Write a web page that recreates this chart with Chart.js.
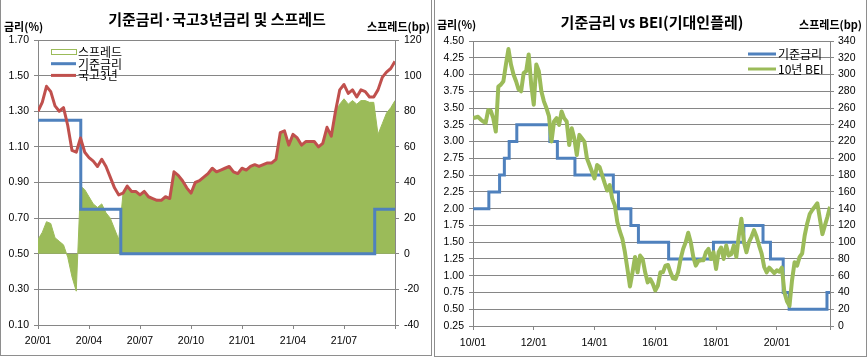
<!DOCTYPE html>
<html>
<head>
<meta charset="utf-8">
<script src="https://cdn.jsdelivr.net/npm/chart.js@4.4.1/dist/chart.umd.min.js"></script>
<style>
  body { margin: 0; background: #fff; }
  #page { position: relative; width: 867px; height: 358px; overflow: hidden; }
  .panel { position: absolute; top: 0; }
  .frame { position: absolute; top: 0; border: 1px solid #8e8e8e; border-top: none; box-sizing: border-box; }
</style>
</head>
<body>
<div id="page">
  <div class="frame" style="left:0;width:432px;height:356px"></div>
  <div class="frame" style="left:434px;width:433px;height:357px"></div>
  <div class="panel" style="left:0"><canvas id="rateChart" width="432" height="358"></canvas></div>
  <div class="panel" style="left:434px"><canvas id="beiChart" width="433" height="358"></canvas></div>
</div>
<script>
// ---- left chart data: weekly points from 2020/01 (x = months since 2020/01)
const tb3Yield = [
  1.30, 1.35, 1.44, 1.41, 1.33, 1.30, 1.32, 1.22, 1.08, 1.07,
  1.15, 1.07, 1.04, 1.02, 0.99, 1.03, 0.99, 0.93, 0.87, 0.83,
  0.84, 0.88, 0.85, 0.85, 0.83, 0.85, 0.82, 0.81, 0.80, 0.80,
  0.82, 0.81, 0.96, 0.94, 0.91, 0.87, 0.84, 0.90, 0.91, 0.93,
  0.95, 0.98, 0.96, 0.97, 0.98, 0.99, 0.96, 0.95, 0.98, 0.97,
  0.99, 1.00, 0.99, 1.00, 1.01, 1.01, 1.03, 1.18, 1.19, 1.11,
  1.17, 1.15, 1.11, 1.13, 1.13, 1.13, 1.10, 1.12, 1.21, 1.16,
  1.30, 1.42, 1.45, 1.40, 1.42, 1.38, 1.42, 1.41, 1.38, 1.38,
  1.42, 1.49, 1.52, 1.54, 1.58
];
const tb3Spread = [
  8, 12, 18, 17, 9, 7, 5, -2, -13, -21,
  38, 36, 32, 28, 26, 28, 23, 20, 14, 8,
  34, 38, 35, 35, 33, 35, 32, 31, 30, 30,
  32, 31, 46, 44, 41, 37, 34, 40, 41, 43,
  45, 48, 46, 47, 48, 49, 46, 45, 48, 47,
  49, 50, 49, 50, 51, 51, 53, 68, 69, 61,
  67, 65, 61, 63, 63, 63, 60, 62, 71, 66,
  80, 84, 87, 84, 86, 84, 86, 86, 85, 85,
  67, 73, 79, 82, 86
];
const baseDates20 = ["2020-01-01", "2020-03-17", "2020-05-28", "2021-08-26", "2021-10-01"];
const baseRate20 = [1.25, 0.75, 0.50, 0.75, 0.75];

// ---- right chart data: monthly points from 2010/01
const bei10y = [
  3.35, 3.36, 3.37, 3.33, 3.30, 3.28, 3.47, 3.46, 3.35, 3.15,
  3.82, 3.85, 3.90, 4.15, 4.38, 4.15, 4.00, 3.90, 3.78, 3.75,
  4.02, 4.05, 4.30, 3.85, 3.55, 4.15, 4.05, 3.75, 3.60, 3.50,
  3.38, 3.00, 3.30, 3.35, 3.25, 3.45, 3.35, 3.30, 2.95, 3.20,
  3.05, 2.80, 3.10, 3.05, 3.00, 2.75, 2.65, 2.55, 2.45, 2.65,
  2.62, 2.50, 2.38, 2.27, 2.35, 2.15, 2.05, 1.80, 1.66, 1.55,
  1.35, 1.10, 0.84, 1.05, 1.28, 1.05, 1.30, 1.25, 1.05, 0.90,
  0.95, 0.88, 0.78, 0.85, 1.05, 1.05, 1.15, 1.16, 1.05, 0.96,
  0.95, 1.05, 1.25, 1.40, 1.50, 1.64, 1.50, 1.28, 1.15, 1.22,
  1.23, 1.23, 1.35, 1.40, 1.25, 1.35, 1.10, 1.35, 1.42, 1.25,
  1.45, 1.30, 1.32, 1.45, 1.28, 1.60, 1.85, 1.50, 1.35, 1.50,
  1.58, 1.68, 1.58, 1.45, 1.33, 1.13, 1.05, 1.12, 1.08, 1.04,
  1.08, 1.06, 1.12, 0.75, 0.62, 0.55, 0.93, 1.20, 1.15, 1.28,
  1.33, 1.60, 1.78, 1.92, 1.98, 2.03, 2.08, 1.85, 1.62, 1.75,
  1.88, 2.03
];
const baseDates10 = [
  "2010-01-01", "2010-07-09", "2010-11-16", "2011-01-13", "2011-03-10", "2011-06-10",
  "2012-07-12", "2012-10-11", "2013-05-09", "2014-08-14", "2014-10-15", "2015-03-12",
  "2015-06-11", "2016-06-09", "2017-11-30", "2018-11-30", "2019-07-18", "2019-10-16",
  "2020-03-17", "2020-05-28", "2021-08-26", "2021-10-01"
];
const baseRate10 = [
  2.00, 2.25, 2.50, 2.75, 3.00, 3.25, 3.00, 2.75, 2.50, 2.25, 2.00,
  1.75, 1.50, 1.25, 1.50, 1.75, 1.50, 1.25, 0.75, 0.50, 0.75, 0.75
];

const gridColor = "#868686";
const blue = "#4F81BD";
const red = "#C0504D";
const green = "#9BBB59";
const krFont = "'Noto Sans CJK KR', 'Noto Sans', sans-serif";

Chart.defaults.font.family = "'Liberation Sans', Arial, sans-serif";
Chart.defaults.font.size = 10.5;
Chart.defaults.color = "#000";

// months since January of baseYear
function monthPos(dateStr, baseYear) {
  const [y, m, d] = dateStr.split("-").map(Number);
  const days = new Date(y, m, 0).getDate();
  return (y - baseYear) * 12 + (m - 1) + (d - 1) / days;
}

function monthLabel(v, yy, step, max) {
  if (v % step !== 0 || v >= max) return "";
  const year = yy + Math.floor(v / 12);
  const month = (v % 12) + 1;
  return year + "/" + String(month).padStart(2, "0");
}

function toPoints(xs, ys) {
  return xs.map((x, i) => ({ x: x, y: ys[i] }));
}

// titles, axis titles and the legend inside the plot
const chartText = {
  id: "chartText",
  afterDraw(chart, args, opts) {
    const ctx = chart.ctx;
    ctx.save();
    ctx.fillStyle = "#000";
    ctx.textBaseline = "middle";
    ctx.font = "bold 15px " + krFont;
    ctx.textAlign = "center";
    ctx.fillText(opts.title, opts.titleX, opts.titleY);
    ctx.font = "bold 11px " + krFont;
    ctx.textAlign = "left";
    ctx.fillText("금리(%)", opts.leftTitleX, opts.axisTitleY);
    ctx.textAlign = "right";
    ctx.fillText("스프레드(bp)", opts.rightTitleX, opts.axisTitleY);

    ctx.font = "12px " + krFont;
    ctx.textAlign = "left";
    opts.legendOrder.forEach((idx, i) => {
      const ds = chart.data.datasets[idx];
      const y = opts.legendY + i * opts.legendGap;
      const x0 = opts.legendX;
      const x1 = x0 + opts.legendW;
      if (ds.fill) {
        ctx.fillStyle = "#fff";
        ctx.fillRect(x0, y - 2, x1 - x0, 5);
        ctx.strokeStyle = ds.backgroundColor;
        ctx.lineWidth = 1;
        ctx.strokeRect(x0 + 0.5, y - 2.5, x1 - x0, 5);
      } else {
        ctx.strokeStyle = ds.borderColor;
        ctx.lineWidth = 3;
        ctx.beginPath();
        ctx.moveTo(x0, y);
        ctx.lineTo(x1, y);
        ctx.stroke();
      }
      ctx.fillStyle = "#000";
      ctx.fillText(ds.label, x1 + 2, y + 0.5);
    });
    ctx.restore();
  }
};

const weekPos = tb3Yield.map((_, i) => i / 4);
const base20Pos = baseDates20.map((d) => monthPos(d, 2020));

new Chart(document.getElementById("rateChart"), {
  type: "line",
  data: {
    datasets: [
      {
        label: "국고3년",
        data: toPoints(weekPos, tb3Yield),
        yAxisID: "y",
        borderColor: red,
        borderWidth: 3,
        borderJoinStyle: "round",
        pointRadius: 0,
        fill: false
      },
      {
        label: "기준금리",
        data: toPoints(base20Pos, baseRate20),
        yAxisID: "y",
        borderColor: blue,
        borderWidth: 3,
        stepped: true,
        pointRadius: 0,
        fill: false
      },
      {
        label: "스프레드",
        data: toPoints(weekPos, tb3Spread),
        yAxisID: "y2",
        borderColor: green,
        backgroundColor: green,
        borderWidth: 1,
        pointRadius: 0,
        fill: "origin"
      }
    ]
  },
  options: {
    responsive: false,
    animation: false,
    devicePixelRatio: 1,
    layout: { padding: { top: 40, left: 0, right: 0, bottom: 0 } },
    plugins: {
      legend: { display: false },
      tooltip: { enabled: false },
      chartText: {
        title: "기준금리·국고3년금리 및 스프레드",
        titleX: 217, titleY: 19,
        leftTitleX: 4, rightTitleX: 430, axisTitleY: 27,
        legendOrder: [2, 1, 0],
        legendX: 51, legendW: 25, legendY: 52, legendGap: 11.7
      }
    },
    scales: {
      x: {
        type: "linear", min: 0, max: 21,
        ticks: { stepSize: 3, autoSkip: false, maxRotation: 0, padding: 6,
          callback: (v) => monthLabel(v, 20, 3, 21) },
        grid: { drawOnChartArea: false, tickLength: 4, color: gridColor },
        border: { color: gridColor },
        afterFit: (s) => { s.height = 33; }
      },
      y: {
        position: "left", min: 0.1, max: 1.7,
        ticks: { stepSize: 0.2, padding: 5, callback: (v) => v.toFixed(2) },
        grid: { color: gridColor, tickLength: 4 },
        border: { color: gridColor },
        afterFit: (s) => { s.width = 38; }
      },
      y2: {
        position: "right", min: -40, max: 120,
        ticks: { stepSize: 20, padding: 5 },
        grid: { drawOnChartArea: false, tickLength: 4, color: gridColor },
        border: { color: gridColor },
        afterFit: (s) => { s.width = 37; }
      }
    }
  },
  plugins: [chartText]
});

const monthIdx = bei10y.map((_, i) => i);
const base10Pos = baseDates10.map((d) => monthPos(d, 2010));

new Chart(document.getElementById("beiChart"), {
  type: "line",
  data: {
    datasets: [
      {
        label: "10년 BEI",
        data: toPoints(monthIdx, bei10y),
        yAxisID: "y",
        borderColor: green,
        borderWidth: 4,
        borderJoinStyle: "round",
        pointRadius: 0,
        fill: false
      },
      {
        label: "기준금리",
        data: toPoints(base10Pos, baseRate10),
        yAxisID: "y",
        borderColor: blue,
        borderWidth: 3,
        stepped: true,
        pointRadius: 0,
        fill: false
      }
    ]
  },
  options: {
    responsive: false,
    animation: false,
    devicePixelRatio: 1,
    layout: { padding: { top: 41, left: 0, right: 0, bottom: 0 } },
    plugins: {
      legend: { display: false },
      tooltip: { enabled: false },
      chartText: {
        title: "기준금리 vs BEI(기대인플레)",
        titleX: 218, titleY: 22,
        leftTitleX: 3, rightTitleX: 428, axisTitleY: 25,
        legendOrder: [1, 0],
        legendX: 314, legendW: 28, legendY: 54, legendGap: 15
      }
    },
    scales: {
      x: {
        type: "linear", min: 0, max: 141,
        ticks: { stepSize: 24, autoSkip: false, maxRotation: 0, padding: 7,
          callback: (v) => monthLabel(v, 10, 24, 141) },
        grid: { drawOnChartArea: false, tickLength: 4, color: gridColor },
        border: { color: gridColor },
        afterFit: (s) => { s.height = 32; }
      },
      y: {
        position: "left", min: 0.25, max: 4.5,
        ticks: { stepSize: 0.25, padding: 5, callback: (v) => v.toFixed(2) },
        grid: { color: gridColor, tickLength: 4 },
        border: { color: gridColor },
        afterFit: (s) => { s.width = 39; }
      },
      y2: {
        position: "right", min: 0, max: 340,
        ticks: { stepSize: 20, padding: 4 },
        grid: { drawOnChartArea: false, tickLength: 4, color: gridColor },
        border: { color: gridColor },
        afterFit: (s) => { s.width = 37; }
      }
    }
  },
  plugins: [chartText]
});
</script>
</body>
</html>
